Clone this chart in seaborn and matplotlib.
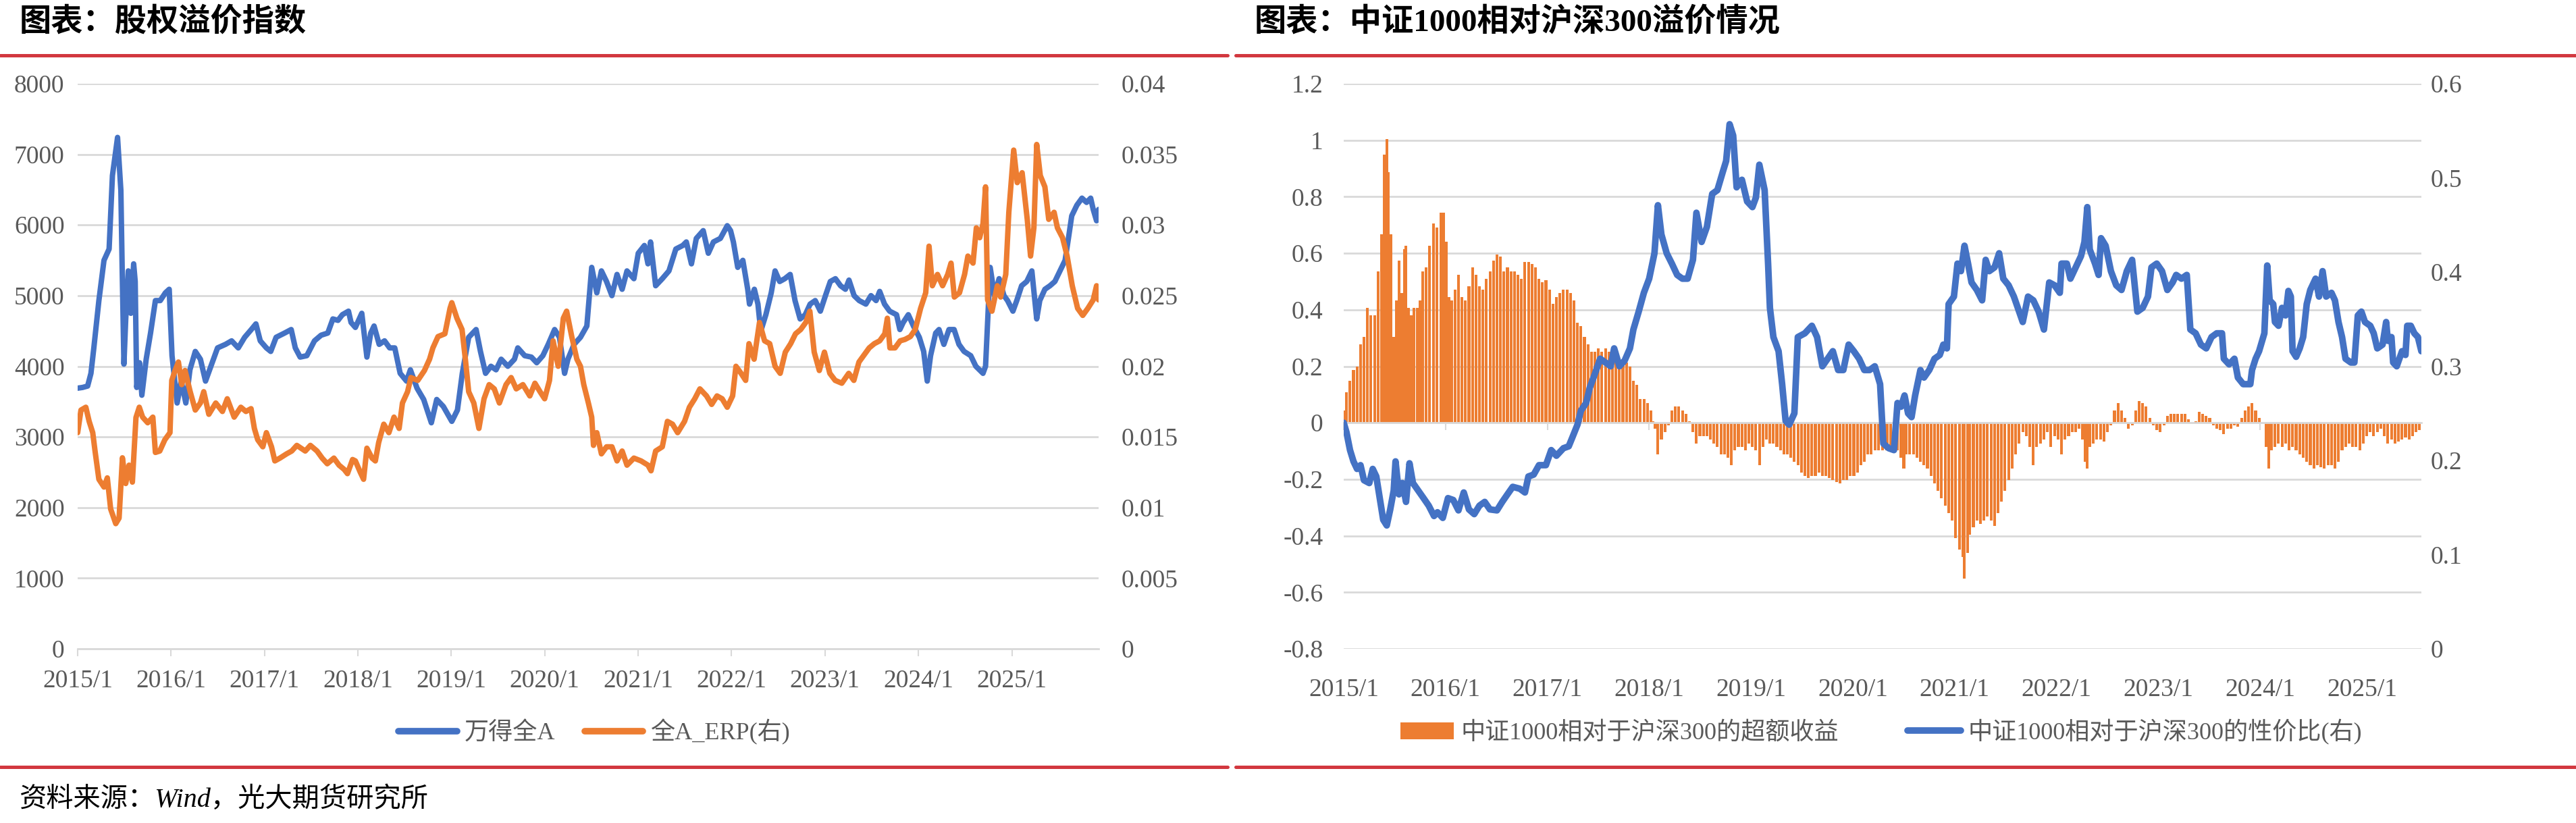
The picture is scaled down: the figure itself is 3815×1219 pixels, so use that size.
import numpy as np
import pandas as pd
import matplotlib
matplotlib.use('Agg')
import matplotlib.pyplot as plt
import matplotlib.dates as mdates
from matplotlib.ticker import FuncFormatter
from matplotlib.lines import Line2D
from matplotlib.patches import Patch
import seaborn as sns

# ---------------- data: left chart ----------------
wind_dates = [
 '2015-01-01','2015-01-20','2015-02-09','2015-02-22','2015-03-05','2015-03-25','2015-04-14','2015-05-04','2015-05-17','2015-06-06',
 '2015-06-19','2015-06-24','2015-07-01','2015-07-08','2015-07-18','2015-07-28','2015-08-08','2015-08-14','2015-08-20','2015-08-31',
 '2015-09-09','2015-09-26','2015-10-13','2015-11-01','2015-11-20','2015-12-10','2015-12-25',
 '2016-01-05','2016-01-25','2016-02-10','2016-02-28','2016-03-15','2016-04-05','2016-04-25','2016-05-15','2016-06-05','2016-07-01',
 '2016-08-01','2016-08-25','2016-09-20','2016-10-15','2016-11-10','2016-11-28','2016-12-15',
 '2017-01-08','2017-01-25','2017-02-15','2017-03-20','2017-04-15','2017-05-01','2017-05-20','2017-06-15','2017-07-15','2017-08-10',
 '2017-09-05','2017-09-25','2017-10-15','2017-11-01','2017-11-25','2017-12-05','2017-12-22',
 '2018-01-16','2018-02-05','2018-02-20','2018-03-05','2018-03-25','2018-04-15','2018-05-05','2018-05-25','2018-06-15','2018-07-10',
 '2018-07-25','2018-08-20','2018-09-15','2018-10-15','2018-11-05','2018-12-01',
 '2019-01-03','2019-01-25','2019-02-13','2019-03-10','2019-04-08','2019-04-25','2019-05-15','2019-06-05','2019-06-25','2019-07-15',
 '2019-08-10','2019-09-05','2019-09-18','2019-10-15','2019-11-10','2019-12-01','2019-12-25',
 '2020-01-15','2020-02-09','2020-02-28','2020-03-19','2020-04-01','2020-04-25','2020-05-20','2020-06-14','2020-07-03','2020-07-23',
 '2020-08-10','2020-08-30','2020-09-20','2020-10-10','2020-10-30','2020-11-18','2020-12-15',
 '2021-01-01','2021-01-25','2021-02-08','2021-02-18','2021-03-10','2021-04-05','2021-05-01','2021-05-28','2021-06-24','2021-07-08',
 '2021-07-28','2021-08-16','2021-09-12','2021-10-02','2021-10-22','2021-11-18','2021-12-15','2021-12-28',
 '2022-01-08','2022-01-25','2022-02-14','2022-03-05','2022-03-12','2022-03-31','2022-04-14','2022-04-20','2022-04-27','2022-05-15',
 '2022-06-05','2022-06-20','2022-07-08','2022-07-28','2022-08-18','2022-09-06','2022-09-26','2022-10-16','2022-11-04','2022-11-24','2022-12-14',
 '2023-01-03','2023-01-22','2023-02-11','2023-03-03','2023-03-22','2023-04-05','2023-04-25','2023-05-15','2023-06-10','2023-06-30',
 '2023-07-20','2023-08-03','2023-08-22','2023-09-11','2023-10-08','2023-10-21','2023-11-03','2023-11-23','2023-12-13',
 '2024-01-05','2024-01-22','2024-02-05','2024-02-18','2024-03-09','2024-03-22','2024-04-10','2024-04-30','2024-05-20','2024-06-08',
 '2024-06-28','2024-07-24','2024-08-13','2024-09-10','2024-09-20','2024-09-30','2024-10-08','2024-10-25','2024-11-12','2024-12-01','2024-12-15',
 '2025-01-05','2025-01-20','2025-02-08','2025-02-28','2025-03-20','2025-04-08','2025-04-20','2025-05-10','2025-05-30','2025-06-18',
 '2025-07-08','2025-07-28','2025-08-10','2025-08-23','2025-09-12','2025-10-02','2025-10-20','2025-11-05','2025-11-15','2025-11-28','2025-12-06']
wind_values = [
 3690,3700,3720,3900,4250,4930,5500,5660,6700,7240,
 6490,5400,4030,4670,5350,4750,5450,5200,3700,4050,
 3590,4100,4470,4930,4930,5040,5090,
 4150,3480,3790,3480,3950,4210,4100,3790,4000,4260,
 4310,4360,4260,4410,4520,4600,4360,
 4260,4210,4410,4470,4520,4260,4130,4150,4360,4440,
 4470,4670,4650,4730,4780,4620,4550,
 4750,4130,4470,4570,4310,4360,4260,4260,3900,3790,
 3950,3690,3530,3200,3530,3430,
 3220,3380,3900,4410,4520,4210,3900,4000,3950,4100,
 4000,4100,4260,4150,4130,4050,4150,
 4310,4520,4410,3900,4100,4310,4410,4570,5400,5040,
 5350,5200,5000,5300,5090,5350,5240,
 5600,5710,5450,5760,5140,5240,5350,5660,5710,5760,
 5450,5810,5920,5600,5760,5810,5990,5920,
 5760,5400,5500,5090,4880,5090,4880,4670,4520,4730,
 5040,5350,5200,5240,5300,4930,4670,4730,4880,4930,4780,
 5000,5200,5240,5140,5090,5220,5000,4930,4880,5000,
 4930,5060,4880,4780,4730,4520,4620,4730,4570,
 4410,4210,3790,4150,4470,4520,4310,4520,4520,4310,
 4210,4150,4000,3900,4000,4780,5400,5000,5240,5000,4930,
 4780,4930,5140,5200,5350,4670,4930,5090,5140,5200,
 5350,5500,5810,6130,6280,6380,6320,6380,6220,6060,6220]

erp_dates = [
 '2015-01-01','2015-01-14','2015-02-02','2015-02-15','2015-03-01','2015-03-10','2015-03-25','2015-04-14','2015-04-27','2015-05-10',
 '2015-05-30','2015-06-12','2015-06-25','2015-07-08','2015-07-21','2015-08-03','2015-08-17','2015-08-30','2015-09-12','2015-10-02',
 '2015-10-22','2015-11-01','2015-11-18','2015-12-08','2015-12-28',
 '2016-01-04','2016-01-17','2016-01-30','2016-02-12','2016-02-25','2016-03-16','2016-04-05','2016-04-25','2016-05-08','2016-05-28',
 '2016-06-24','2016-07-20','2016-08-08','2016-09-04','2016-09-30','2016-10-20','2016-11-09','2016-11-22','2016-12-05','2016-12-25',
 '2017-01-08','2017-01-28','2017-02-10','2017-03-02','2017-03-28','2017-04-17','2017-05-07','2017-06-09','2017-06-29','2017-07-25',
 '2017-08-14','2017-09-03','2017-09-29','2017-10-19','2017-11-08','2017-11-21','2017-12-11','2017-12-22',
 '2018-01-10','2018-01-23','2018-02-05','2018-02-25','2018-03-10','2018-03-23','2018-04-12','2018-05-02','2018-05-22','2018-06-11',
 '2018-06-24','2018-07-14','2018-07-27','2018-08-23','2018-09-18','2018-10-08','2018-10-21','2018-11-10','2018-12-07','2018-12-27',
 '2019-01-03','2019-01-23','2019-02-12','2019-02-25','2019-03-10','2019-03-30','2019-04-19','2019-05-09','2019-05-29','2019-06-18',
 '2019-07-08','2019-08-03','2019-08-23','2019-09-12','2019-10-08','2019-11-04','2019-11-24','2019-12-14',
 '2020-01-01','2020-01-20','2020-02-03','2020-02-23','2020-03-14','2020-03-27','2020-04-16','2020-05-06','2020-05-20','2020-06-02',
 '2020-06-20','2020-07-03','2020-07-10','2020-07-23','2020-08-10','2020-08-30','2020-09-20','2020-10-10','2020-10-30','2020-11-18','2020-12-15',
 '2021-01-12','2021-02-08','2021-02-20','2021-03-10','2021-04-05','2021-04-25','2021-05-15','2021-06-04','2021-07-01','2021-07-20',
 '2021-08-10','2021-08-30','2021-09-25','2021-10-15','2021-11-05','2021-11-25','2021-12-15',
 '2022-01-05','2022-01-18','2022-02-07','2022-02-25','2022-03-10','2022-03-30','2022-04-20','2022-05-10','2022-05-30','2022-06-20',
 '2022-07-10','2022-07-30','2022-08-20','2022-09-08','2022-09-28','2022-10-18','2022-11-03','2022-11-20','2022-12-10','2022-12-30',
 '2023-01-20','2023-02-10','2023-03-08','2023-04-04','2023-04-24','2023-05-14','2023-06-03','2023-06-23','2023-07-13','2023-08-03',
 '2023-08-23','2023-09-02','2023-09-12','2023-10-02','2023-10-22','2023-11-10','2023-12-01','2023-12-20',
 '2024-01-10','2024-01-30','2024-02-12','2024-02-25','2024-03-16','2024-04-05','2024-04-25','2024-05-08','2024-05-21','2024-06-10',
 '2024-06-30','2024-07-13','2024-08-02','2024-08-15','2024-08-28','2024-09-10','2024-09-20','2024-09-28','2024-10-15','2024-11-05',
 '2024-11-18','2024-12-08','2024-12-20',
 '2025-01-08','2025-01-22','2025-02-10','2025-03-02','2025-03-15','2025-03-28','2025-04-08','2025-04-22','2025-05-10','2025-05-25',
 '2025-06-15','2025-06-28','2025-07-18','2025-08-05','2025-08-25','2025-09-15','2025-10-05','2025-10-25','2025-11-15','2025-11-28','2025-12-06']
erp_values = [
 0.0153,0.0169,0.0171,0.0161,0.0153,0.0140,0.0120,0.01145,0.0121,0.0099,
 0.00886,0.00925,0.01352,0.0117,0.0130,0.0118,0.01637,0.0171,0.0164,0.0160,
 0.0164,0.0139,0.0140,0.0148,0.0153,
 0.0190,0.0197,0.0203,0.0187,0.0197,0.0182,0.0169,0.0174,0.0182,0.0166,
 0.0174,0.0168,0.0177,0.0164,0.0171,0.0168,0.0170,0.0156,0.0148,0.0143,
 0.0153,0.0143,0.0133,0.0135,0.0138,0.0140,0.0144,0.0140,0.0144,0.0140,
 0.0135,0.0131,0.0135,0.0130,0.0127,0.0124,0.0134,0.0133,
 0.0125,0.0120,0.0142,0.0135,0.0133,0.0146,0.0159,0.0153,0.0164,0.0156,
 0.0174,0.0182,0.0192,0.0190,0.0197,0.0205,0.0213,0.0221,0.0223,0.0241,
 0.0245,0.0234,0.0226,0.0205,0.0182,0.0174,0.0156,0.0177,0.0187,0.0184,
 0.0174,0.0187,0.0192,0.0184,0.0187,0.0179,0.0188,0.0182,
 0.0177,0.0190,0.0218,0.0200,0.0234,0.0239,0.0221,0.0205,0.0200,0.0187,
 0.0174,0.0164,0.0144,0.0153,0.0138,0.0143,0.0143,0.0133,0.0140,0.0130,0.0135,
 0.0133,0.0130,0.0126,0.0140,0.0143,0.0161,0.0159,0.0153,0.0161,0.0171,
 0.0177,0.0184,0.0179,0.0173,0.0179,0.0177,0.0171,
 0.0179,0.0200,0.0195,0.0190,0.0216,0.0205,0.0231,0.0218,0.0216,0.0200,
 0.0195,0.0210,0.0216,0.0223,0.0226,0.0231,0.0239,0.0210,0.0197,0.0210,
 0.0195,0.0190,0.0188,0.0195,0.0190,0.0203,0.0208,0.0213,0.0216,0.0218,
 0.0223,0.0234,0.0213,0.0213,0.0218,0.0219,0.0221,0.0226,
 0.0241,0.0252,0.0285,0.0257,0.0265,0.0257,0.0265,0.0273,0.0249,0.0252,
 0.0265,0.0278,0.0273,0.0298,0.0291,0.0301,0.0327,0.0247,0.0239,0.0257,
 0.0249,0.0265,0.0309,
 0.0353,0.0330,0.0337,0.0304,0.0278,0.0298,0.0357,0.0335,0.0327,0.0304,
 0.0309,0.0298,0.0291,0.0278,0.0257,0.0241,0.0236,0.0241,0.0247,0.0257,0.0247]

# ---------------- data: right chart (time in decimal years) ----------------
ratio_years = [
 2015.000,2015.027,2015.062,2015.096,2015.131,2015.165,2015.199,2015.251,2015.285,2015.320,
 2015.354,2015.388,2015.423,2015.457,2015.491,2015.509,2015.543,2015.577,2015.612,2015.646,
 2015.680,2015.732,2015.784,2015.835,2015.887,2015.921,2015.973,
 2016.024,2016.076,2016.127,2016.179,2016.230,2016.282,2016.333,2016.385,2016.436,2016.505,
 2016.557,2016.608,2016.660,2016.729,2016.780,2016.814,2016.866,2016.918,2016.986,
 2017.038,2017.089,2017.158,2017.210,2017.244,2017.296,2017.330,2017.381,2017.416,2017.467,
 2017.519,2017.570,2017.622,2017.656,2017.708,2017.759,2017.811,2017.845,2017.897,2017.948,
 2018.000,2018.052,2018.086,2018.120,2018.172,2018.223,2018.275,2018.326,2018.378,2018.430,
 2018.464,2018.515,2018.567,2018.619,2018.670,2018.722,2018.756,2018.790,2018.825,2018.859,
 2018.911,2018.962,
 2019.014,2019.048,2019.082,2019.134,2019.168,2019.186,2019.220,2019.271,2019.306,2019.340,
 2019.375,2019.426,2019.460,2019.529,2019.598,2019.649,2019.701,2019.753,2019.804,2019.856,
 2019.907,2019.959,
 2020.010,2020.062,2020.113,2020.165,2020.216,2020.268,2020.300,2020.352,2020.404,2020.439,
 2020.473,2020.508,2020.543,2020.577,2020.612,2020.664,2020.699,2020.751,2020.802,2020.854,
 2020.889,2020.924,2020.941,2020.993,
 2021.028,2021.062,2021.097,2021.132,2021.166,2021.218,2021.270,2021.305,2021.340,2021.392,
 2021.437,2021.478,2021.530,2021.582,2021.634,2021.669,2021.721,2021.773,2021.825,2021.877,
 2021.929,2021.981,
 2022.033,2022.050,2022.102,2022.137,2022.189,2022.241,2022.275,2022.303,2022.327,2022.379,
 2022.414,2022.438,2022.483,2022.535,2022.587,2022.639,2022.691,2022.743,2022.795,2022.847,
 2022.899,2022.933,2022.985,
 2023.037,2023.089,2023.141,2023.176,2023.228,2023.280,2023.315,2023.367,2023.419,2023.471,
 2023.523,2023.574,2023.626,2023.644,2023.696,2023.748,2023.782,2023.834,2023.904,2023.921,
 2023.956,2023.990,
 2024.042,2024.070,2024.094,2024.129,2024.146,2024.181,2024.215,2024.250,2024.278,2024.302,
 2024.319,2024.354,2024.389,2024.423,2024.458,2024.493,2024.545,2024.579,2024.614,2024.649,
 2024.701,2024.735,2024.770,2024.805,2024.839,2024.891,2024.926,2024.960,2024.995,
 2025.030,2025.082,2025.116,2025.151,2025.203,2025.238,2025.255,2025.290,2025.307,2025.342,
 2025.394,2025.428,2025.445,2025.480,2025.515,2025.550,2025.584]
ratio_values = [
 0.240,0.230,0.211,0.199,0.191,0.195,0.179,0.176,0.191,0.183,
 0.160,0.137,0.131,0.148,0.168,0.199,0.164,0.176,0.156,0.197,
 0.176,0.168,0.160,0.152,0.141,0.145,0.139,
 0.160,0.158,0.147,0.166,0.148,0.143,0.152,0.156,0.148,0.147,
 0.156,0.164,0.172,0.170,0.166,0.183,0.185,0.195,0.195,
 0.211,0.205,0.213,0.215,0.224,0.238,0.253,0.261,0.277,0.292,
 0.308,0.304,0.300,0.319,0.300,0.306,0.319,0.339,0.358,0.378,
 0.393,0.420,0.471,0.440,0.420,0.409,0.397,0.393,0.393,0.413,
 0.463,0.432,0.448,0.483,0.487,0.506,0.518,0.557,0.545,0.490,
 0.498,0.475,
 0.469,0.479,0.514,0.487,0.409,0.362,0.331,0.316,0.281,0.242,
 0.238,0.250,0.331,0.335,0.343,0.331,0.300,0.308,0.316,0.296,
 0.296,0.323,
 0.316,0.308,0.296,0.296,0.300,0.281,0.218,0.213,0.211,0.261,
 0.257,0.269,0.250,0.246,0.269,0.296,0.288,0.296,0.308,0.312,
 0.323,0.319,0.366,0.374,
 0.409,0.401,0.428,0.409,0.389,0.381,0.370,0.413,0.401,0.405,
 0.420,0.393,0.386,0.374,0.358,0.347,0.374,0.370,0.358,0.339,
 0.389,0.386,
 0.378,0.409,0.409,0.393,0.405,0.417,0.432,0.469,0.424,0.409,
 0.397,0.436,0.428,0.401,0.386,0.381,0.401,0.413,0.358,0.362,
 0.374,0.405,0.409,
 0.401,0.381,0.389,0.397,0.393,0.397,0.339,0.335,0.323,0.319,
 0.331,0.335,0.335,0.308,0.302,0.308,0.288,0.281,0.281,0.296,
 0.308,0.316,
 0.335,0.407,0.370,0.366,0.347,0.343,0.362,0.354,0.380,0.374,
 0.316,0.310,0.319,0.331,0.366,0.381,0.393,0.374,0.401,0.374,
 0.378,0.370,0.347,0.331,0.308,0.304,0.304,0.354,0.358,
 0.347,0.343,0.335,0.319,0.323,0.347,0.327,0.331,0.304,0.300,
 0.316,0.312,0.343,0.343,0.335,0.331,0.316]

excess_years = [
 2015.007,2015.027,2015.062,2015.096,2015.131,2015.165,2015.199,2015.234,2015.268,2015.302,
 2015.337,2015.371,2015.399,2015.423,2015.440,2015.467,2015.491,2015.515,2015.543,2015.570,
 2015.595,2015.612,2015.639,2015.663,2015.687,2015.722,2015.749,2015.777,2015.811,2015.845,
 2015.880,2015.914,2015.955,2015.983,
 2016.007,2016.031,2016.058,2016.093,2016.127,2016.162,2016.196,2016.230,2016.265,2016.299,
 2016.333,2016.368,2016.402,2016.436,2016.471,2016.505,2016.540,2016.574,2016.608,2016.643,
 2016.677,2016.711,2016.746,2016.780,2016.814,2016.849,2016.883,2016.918,2016.952,2016.986,
 2017.021,2017.055,2017.089,2017.124,2017.158,2017.192,2017.227,2017.261,2017.296,2017.330,
 2017.364,2017.399,2017.433,2017.467,2017.502,2017.536,2017.570,2017.605,2017.639,2017.674,
 2017.708,2017.742,2017.777,2017.811,2017.845,2017.880,2017.914,2017.948,2017.983,
 2018.017,2018.034,2018.058,2018.086,2018.120,2018.155,2018.189,2018.223,2018.258,2018.292,
 2018.326,2018.361,2018.395,2018.430,2018.464,2018.498,2018.533,2018.567,2018.601,2018.636,
 2018.670,2018.704,2018.739,2018.773,2018.808,2018.842,2018.876,2018.911,2018.945,2018.979,
 2019.014,2019.048,2019.082,2019.117,2019.151,2019.186,2019.220,2019.254,2019.289,2019.323,
 2019.357,2019.392,2019.426,2019.460,2019.495,2019.529,2019.564,2019.598,2019.632,2019.667,
 2019.701,2019.735,2019.770,2019.804,2019.838,2019.873,2019.907,2019.942,2019.976,
 2020.010,2020.045,2020.079,2020.113,2020.148,2020.182,2020.216,2020.251,2020.290,2020.335,
 2020.369,2020.404,2020.439,2020.473,2020.501,2020.525,2020.560,2020.595,2020.629,2020.664,
 2020.699,2020.733,2020.768,2020.802,2020.837,2020.872,2020.906,2020.941,2020.976,
 2021.010,2021.045,2021.080,2021.097,2021.125,2021.149,2021.184,2021.218,2021.253,2021.288,
 2021.322,2021.357,2021.392,2021.426,2021.461,2021.495,2021.530,2021.565,2021.599,2021.634,
 2021.669,2021.703,2021.738,2021.773,2021.807,2021.842,2021.877,2021.911,2021.946,2021.981,
 2022.015,2022.050,2022.085,2022.119,2022.154,2022.189,2022.223,2022.258,2022.282,2022.303,
 2022.327,2022.362,2022.396,2022.431,2022.466,2022.500,2022.535,2022.570,2022.604,2022.639,
 2022.674,2022.708,2022.743,2022.778,2022.812,2022.847,2022.881,2022.916,2022.951,2022.985,
 2023.020,2023.055,2023.089,2023.124,2023.159,2023.193,2023.228,2023.263,2023.297,2023.332,
 2023.367,2023.401,2023.436,2023.471,2023.505,2023.540,2023.574,2023.609,2023.644,2023.678,
 2023.713,2023.748,2023.782,2023.817,2023.852,2023.886,2023.921,2023.956,2023.990,
 2024.025,2024.060,2024.084,2024.112,2024.146,2024.181,2024.215,2024.250,2024.285,2024.319,
 2024.354,2024.389,2024.423,2024.458,2024.493,2024.527,2024.562,2024.597,2024.631,2024.666,
 2024.701,2024.735,2024.770,2024.805,2024.839,2024.874,2024.908,2024.943,2024.978,
 2025.012,2025.047,2025.082,2025.116,2025.151,2025.186,2025.220,2025.255,2025.290,2025.324,
 2025.359,2025.394,2025.428,2025.463,2025.497,2025.532,2025.567]
excess_values = [
 0.044,0.109,0.148,0.187,0.200,0.277,0.303,0.407,0.381,0.381,
 0.536,0.666,0.950,1.003,0.886,0.666,0.303,0.433,0.575,0.459,
 0.614,0.627,0.407,0.381,0.407,0.407,0.433,0.536,0.549,0.627,
 0.705,0.692,0.744,0.744,
 0.640,0.446,0.433,0.471,0.523,0.446,0.433,0.484,0.549,0.523,
 0.484,0.471,0.510,0.536,0.575,0.595,0.588,0.536,0.549,0.536,
 0.536,0.523,0.510,0.569,0.569,0.562,0.549,0.510,0.497,0.504,
 0.471,0.420,0.446,0.459,0.471,0.471,0.459,0.433,0.355,0.342,
 0.303,0.277,0.251,0.251,0.264,0.251,0.264,0.251,0.251,0.251,
 0.225,0.225,0.212,0.199,0.148,0.135,0.083,0.083,0.070,
 0.044,0.005,-0.021,-0.111,-0.060,-0.034,-0.008,0.044,0.057,0.057,
 0.044,0.031,0.005,-0.034,-0.073,-0.047,-0.047,-0.047,-0.060,-0.073,
 -0.085,-0.111,-0.111,-0.124,-0.150,-0.098,-0.085,-0.085,-0.098,-0.073,
 -0.085,-0.098,-0.150,-0.085,-0.060,-0.073,-0.073,-0.085,-0.098,-0.111,
 -0.111,-0.124,-0.137,-0.150,-0.176,-0.189,-0.196,-0.189,-0.189,-0.176,
 -0.189,-0.189,-0.196,-0.202,-0.209,-0.215,-0.202,-0.202,-0.189,
 -0.189,-0.176,-0.150,-0.137,-0.111,-0.111,-0.098,-0.098,-0.098,-0.098,
 -0.085,-0.098,-0.098,-0.124,-0.163,-0.111,-0.111,-0.111,-0.124,-0.137,
 -0.150,-0.163,-0.189,-0.215,-0.241,-0.267,-0.293,-0.319,-0.345,
 -0.409,-0.448,-0.474,-0.552,-0.461,-0.396,-0.370,-0.345,-0.358,-0.345,
 -0.332,-0.345,-0.364,-0.319,-0.280,-0.241,-0.202,-0.163,-0.111,-0.073,
 -0.034,-0.047,-0.085,-0.150,-0.085,-0.073,-0.060,-0.034,-0.085,-0.047,
 -0.060,-0.111,-0.060,-0.047,-0.034,-0.034,-0.021,-0.060,-0.137,-0.163,
 -0.085,-0.073,-0.060,-0.060,-0.066,-0.034,-0.008,0.044,0.070,0.044,
 0.018,-0.021,-0.008,0.044,0.076,0.070,0.057,0.018,-0.008,-0.027,
 -0.034,-0.008,0.025,0.031,0.031,0.031,0.031,0.031,0.012,-0.001,
 0.005,0.038,0.031,0.025,0.018,-0.008,-0.021,-0.027,-0.040,-0.021,
 -0.021,-0.008,-0.014,0.018,0.044,0.057,0.070,0.044,0.018,
 -0.001,-0.085,-0.163,-0.098,-0.085,-0.073,-0.085,-0.073,-0.098,-0.085,
 -0.098,-0.111,-0.124,-0.137,-0.150,-0.163,-0.150,-0.157,-0.163,-0.150,
 -0.150,-0.163,-0.137,-0.098,-0.085,-0.073,-0.085,-0.085,-0.098,
 -0.073,-0.047,-0.034,-0.047,-0.034,-0.021,-0.047,-0.073,-0.060,-0.073,
 -0.066,-0.060,-0.053,-0.060,-0.047,-0.034,-0.027]

left_yticks = [0, 1000, 2000, 3000, 4000, 5000, 6000, 7000, 8000]
left_y2ticks = [0, 0.005, 0.01, 0.015, 0.02, 0.025, 0.03, 0.035, 0.04]
right_yticks = [-0.8, -0.6, -0.4, -0.2, 0, 0.2, 0.4, 0.6, 0.8, 1.0, 1.2]
right_y2ticks = [0, 0.1, 0.2, 0.3, 0.4, 0.5, 0.6]
year_ticks = list(range(2015, 2026))

title_left = '图表：股权溢价指数'
title_right = '图表：中证1000相对沪深300溢价情况'
legend_left = ['万得全A', '全A_ERP(右)']
legend_right = ['中证1000相对于沪深300的超额收益', '中证1000相对于沪深300的性价比(右)']
source_text = '资料来源：Wind，光大期货研究所'

# ---------------- style ----------------
sns.set_theme(style='white')
plt.rcParams['font.family'] = ['Liberation Serif', 'Noto Sans CJK SC', 'DejaVu Sans']
plt.rcParams['axes.unicode_minus'] = False

BLUE = '#4472C4'
ORANGE = '#ED7D31'
GRID = '#D9D9D9'
TXT = '#595959'
RED = '#D2383F'

W, H = 3816, 1219
fig = plt.figure(figsize=(W / 100, H / 100), dpi=100)


def fx(px):
    return px / W


def fy(py):
    return 1 - py / H


def fmt(v, _=None):
    return f'{round(v, 6):g}'


TICK_FS = 27

# ---------------- left chart ----------------
axL = fig.add_axes([fx(115), fy(961), fx(1627) - fx(115), fy(124) - fy(961)])
dfw = pd.DataFrame({'date': pd.to_datetime(wind_dates), 'value': wind_values})
dfe = pd.DataFrame({'date': pd.to_datetime(erp_dates), 'value': erp_values})
sns.lineplot(data=dfw, x='date', y='value', ax=axL, color=BLUE, lw=5.8, estimator=None, sort=False,
             solid_joinstyle='round', solid_capstyle='round')
axL.set_xlim(dfw['date'].min(), dfw['date'].max())
axL.set_ylim(0, 8000)
axL.set_yticks(left_yticks)
axL.yaxis.set_major_formatter(FuncFormatter(fmt))
axL.xaxis.set_major_locator(mdates.YearLocator())
axL.xaxis.set_major_formatter(mdates.DateFormatter('%Y/%-m'))
axL.grid(axis='y', color=GRID, lw=2)
axL.grid(axis='x', visible=False)
for s in ['top', 'right', 'left']:
    axL.spines[s].set_visible(False)
axL.spines['bottom'].set_color(GRID)
axL.spines['bottom'].set_linewidth(2)
axL.tick_params(axis='x', bottom=True, length=8, width=1.5, color=GRID, direction='out',
                pad=14, labelsize=TICK_FS, labelcolor=TXT)
axL.tick_params(axis='y', left=False, length=0, pad=14, labelsize=TICK_FS, labelcolor=TXT)
axL.set_xlabel('')
axL.set_ylabel('')

axLr = axL.twinx()
sns.lineplot(data=dfe, x='date', y='value', ax=axLr, color=ORANGE, lw=5.8, estimator=None, sort=False,
             solid_joinstyle='round', solid_capstyle='round')
axLr.set_ylim(0, 0.04)
axLr.set_yticks(left_y2ticks)
axLr.yaxis.set_major_formatter(FuncFormatter(fmt))
axLr.grid(False)
for s in axLr.spines.values():
    s.set_visible(False)
axLr.tick_params(axis='y', right=False, length=0, pad=24, labelsize=TICK_FS, labelcolor=TXT)
axLr.set_ylabel('')
axLr.set_xlabel('')

# ---------------- right chart ----------------
axR = fig.add_axes([fx(1990), fy(961), fx(3586) - fx(1990), fy(124) - fy(961)])
axR.bar(excess_years, excess_values, width=0.027, color=ORANGE, linewidth=0, zorder=2)
axR.set_xlim(min(ratio_years), max(ratio_years))
axR.set_ylim(-0.8, 1.2)
axR.set_yticks(right_yticks)
axR.yaxis.set_major_formatter(FuncFormatter(fmt))
axR.grid(axis='y', color=GRID, lw=2)
axR.grid(axis='x', visible=False)
for s in ['top', 'right', 'left']:
    axR.spines[s].set_visible(False)
axR.spines['bottom'].set_position(('data', 0))
axR.spines['bottom'].set_color(GRID)
axR.spines['bottom'].set_linewidth(2)
axR.set_xticks(year_ticks)
axR.tick_params(axis='x', bottom=True, labelbottom=False, length=8, width=1.5, color=GRID, direction='out')
axR.tick_params(axis='y', left=False, length=0, pad=22, labelsize=TICK_FS, labelcolor=TXT)

sec = axR.secondary_xaxis('bottom')
sec.set_xticks(year_ticks)
sec.set_xticklabels([f'{y}/1' for y in year_ticks])
sec.tick_params(axis='x', length=0, pad=31, labelsize=TICK_FS, labelcolor=TXT)
for s in sec.spines.values():
    s.set_visible(False)

axRr = axR.twinx()
sns.lineplot(x=ratio_years, y=ratio_values, ax=axRr, color=BLUE, lw=7, estimator=None, sort=False,
             solid_joinstyle='round', solid_capstyle='round')
axRr.set_ylim(0, 0.6)
axRr.set_yticks(right_y2ticks)
axRr.yaxis.set_major_formatter(FuncFormatter(fmt))
axRr.grid(False)
for s in axRr.spines.values():
    s.set_visible(False)
axRr.tick_params(axis='y', right=False, length=0, pad=10, labelsize=TICK_FS, labelcolor=TXT)
axRr.set_xlim(min(ratio_years), max(ratio_years))

# ---------------- titles, rules, legends, source ----------------
fig.text(fx(29), fy(34), title_left, fontsize=34, fontweight='bold', ha='left', va='center', color='black')
fig.text(fx(1858), fy(34), title_right, fontsize=34, fontweight='bold', ha='left', va='center', color='black')

for (x0, x1) in [(0, 1818), (1830, W)]:
    fig.add_artist(Line2D([fx(x0), fx(x1)], [fy(82), fy(82)], color=RED, lw=3.6, transform=fig.transFigure))
    fig.add_artist(Line2D([fx(x0), fx(x1)], [fy(1136), fy(1136)], color=RED, lw=3.6, transform=fig.transFigure))

hL = [Line2D([], [], color=BLUE, lw=7, solid_capstyle='round'),
      Line2D([], [], color=ORANGE, lw=7, solid_capstyle='round')]
fig.legend(hL, legend_left, loc='center', bbox_to_anchor=(fx(880), fy(1084)), ncol=2, frameon=False,
           fontsize=26, handlelength=2.4, handletextpad=0.3, columnspacing=1.2, labelcolor=TXT)

hR = [Patch(facecolor=ORANGE, edgecolor='none'),
      Line2D([], [], color=BLUE, lw=7, solid_capstyle='round')]
fig.legend(hR, legend_right, loc='center', bbox_to_anchor=(fx(2786), fy(1084)), ncol=2, frameon=False,
           fontsize=26, handlelength=2.2, handleheight=0.7, handletextpad=0.3, columnspacing=2.8, labelcolor=TXT)

fig.text(fx(29), fy(1185), source_text, fontsize=29, style='italic', ha='left', va='center', color='black')

fig.savefig('out.png', dpi=100)
